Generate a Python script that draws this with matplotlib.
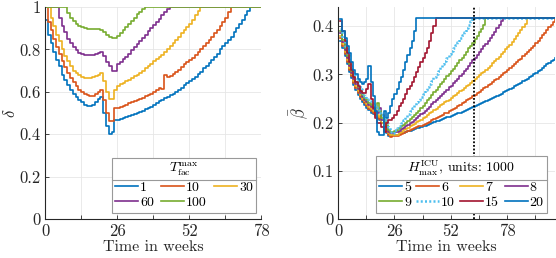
import numpy as np
import matplotlib
matplotlib.use("Agg")
import matplotlib.pyplot as plt
from matplotlib.lines import Line2D

plt.rcParams['font.family'] = ['cmr10', 'DejaVu Serif']
plt.rcParams['mathtext.fontset'] = 'cm'
plt.rcParams['axes.formatter.use_mathtext'] = True

# --- colours (MATLAB default order) ---
C_BLUE = (0.0, 0.447, 0.741)
C_ORANGE = (0.85, 0.325, 0.098)
C_YELLOW = (0.929, 0.694, 0.125)
C_PURPLE = (0.494, 0.184, 0.556)
C_GREEN = (0.466, 0.674, 0.188)
C_CYAN = (0.301, 0.745, 0.933)
C_RED = (0.635, 0.078, 0.184)
AX_COL = (0.15, 0.15, 0.15)

# --- left panel: delta over weeks (weekly stairs from week 0) ---
t_fac_labels = ['1', '10', '30', '60', '100']
delta_end_week = 78
delta_T1 = [0.94, 0.87, 0.83, 0.79, 0.75, 0.72, 0.68, 0.655, 0.63, 0.61,
            0.59, 0.575, 0.56, 0.55, 0.54, 0.535, 0.535, 0.54, 0.55, 0.565,
            0.575, 0.50, 0.44, 0.40, 0.41, 0.465, 0.465, 0.47, 0.475, 0.48,
            0.485, 0.49, 0.495, 0.50, 0.505, 0.51, 0.52, 0.525, 0.53, 0.54,
            0.545, 0.555, 0.56, 0.57, 0.575, 0.585, 0.59, 0.60, 0.61, 0.62,
            0.63, 0.64, 0.65, 0.66, 0.67, 0.685, 0.695, 0.71, 0.72, 0.735,
            0.75, 0.765, 0.78, 0.80, 0.815, 0.83, 0.845, 0.86, 0.88, 0.90,
            0.92, 0.94, 0.96, 0.98, 1.0]
delta_T10 = [1.0, 0.93, 0.89, 0.85, 0.81, 0.78, 0.745, 0.715, 0.69, 0.665,
             0.645, 0.625, 0.61, 0.60, 0.59, 0.585, 0.58, 0.58, 0.59, 0.60,
             0.61, 0.56, 0.50, 0.46, 0.46, 0.525, 0.525, 0.53, 0.535, 0.54,
             0.545, 0.55, 0.555, 0.56, 0.565, 0.57, 0.58, 0.585, 0.59, 0.60,
             0.61, 0.62, 0.615, 0.68, 0.67, 0.675, 0.685, 0.695, 0.705, 0.715,
             0.73, 0.74, 0.75, 0.76, 0.775, 0.79, 0.80, 0.815, 0.83, 0.845,
             0.86, 0.875, 0.89, 0.91, 0.93, 0.95, 0.975, 1.0]
delta_T30 = [1.0, 1.0, 0.95, 0.91, 0.87, 0.84, 0.80, 0.77, 0.745, 0.72,
             0.70, 0.69, 0.68, 0.67, 0.665, 0.665, 0.665, 0.67, 0.675, 0.68,
             0.69, 0.65, 0.60, 0.565, 0.565, 0.61, 0.625, 0.635, 0.64, 0.65,
             0.655, 0.665, 0.675, 0.68, 0.69, 0.70, 0.71, 0.72, 0.73, 0.745,
             0.755, 0.765, 0.775, 0.79, 0.80, 0.815, 0.83, 0.845, 0.86, 0.875,
             0.89, 0.905, 0.92, 0.94, 0.96, 0.98, 1.0]
delta_T60 = [1.0, 1.0, 1.0, 1.0, 1.0, 0.95, 0.91, 0.88, 0.85, 0.83,
             0.81, 0.795, 0.785, 0.78, 0.775, 0.775, 0.775, 0.775, 0.78, 0.785,
             0.79, 0.77, 0.74, 0.72, 0.70, 0.70, 0.73, 0.74, 0.755, 0.765,
             0.78, 0.795, 0.81, 0.825, 0.84, 0.855, 0.87, 0.885, 0.90, 0.915,
             0.93, 0.945, 0.96, 0.975, 0.99, 1.0]
delta_T100 = [1.0, 1.0, 1.0, 1.0, 1.0, 1.0, 1.0, 1.0, 0.97, 0.95,
              0.935, 0.92, 0.91, 0.905, 0.90, 0.895, 0.895, 0.895, 0.895, 0.895,
              0.89, 0.88, 0.87, 0.86, 0.855, 0.855, 0.865, 0.875, 0.89, 0.905,
              0.92, 0.935, 0.95, 0.965, 0.975, 0.99, 1.0]

# --- right panel: beta bar over weeks (weekly stairs from week 1) ---
h_icu_labels = ['5', '6', '7', '8', '9', '10', '15', '20']
beta_end_week = 100
beta_H5 = [0.370, 0.355, 0.338, 0.322, 0.306, 0.292, 0.279, 0.268, 0.258, 0.250,
           0.243, 0.237, 0.231, 0.226, 0.221, 0.217, 0.213, 0.209, 0.205, 0.200,
           0.185, 0.178, 0.172, 0.172, 0.175, 0.175,
           0.175, 0.176, 0.178, 0.179, 0.180, 0.182, 0.183, 0.185, 0.186, 0.188,
           0.189, 0.191, 0.193, 0.194, 0.196, 0.198, 0.199, 0.201, 0.203, 0.204,
           0.206, 0.208, 0.209, 0.211, 0.212, 0.214, 0.216, 0.217, 0.219, 0.221,
           0.223, 0.225, 0.226, 0.228, 0.230, 0.232, 0.234, 0.236, 0.238, 0.240,
           0.242, 0.245, 0.247, 0.249, 0.251, 0.254, 0.256, 0.258, 0.260, 0.263,
           0.265, 0.267, 0.270, 0.272, 0.275, 0.278, 0.280, 0.283, 0.286, 0.289,
           0.291, 0.294, 0.297, 0.300, 0.303, 0.307, 0.310, 0.314, 0.317, 0.321,
           0.324, 0.328, 0.331, 0.335]
beta_H6 = [0.375, 0.360, 0.342, 0.326, 0.310, 0.296, 0.283, 0.272, 0.262, 0.253,
           0.246, 0.240, 0.234, 0.229, 0.224, 0.220, 0.216, 0.212, 0.208, 0.215,
           0.190, 0.180, 0.175, 0.170, 0.172, 0.172,
           0.172, 0.174, 0.176, 0.178, 0.180, 0.182, 0.184, 0.186, 0.188, 0.190,
           0.192, 0.194, 0.196, 0.198, 0.200, 0.202, 0.205, 0.207, 0.209, 0.212,
           0.214, 0.216, 0.219, 0.221, 0.224, 0.226, 0.229, 0.231, 0.234, 0.237,
           0.240, 0.243, 0.246, 0.249, 0.252, 0.255, 0.258, 0.261, 0.264, 0.268,
           0.271, 0.274, 0.278, 0.281, 0.284, 0.288, 0.291, 0.295, 0.298, 0.302,
           0.306, 0.309, 0.313, 0.317, 0.321, 0.325, 0.329, 0.333, 0.338, 0.342,
           0.346, 0.351, 0.355, 0.360, 0.365, 0.370, 0.376, 0.381, 0.387, 0.392,
           0.398, 0.403, 0.409, 0.414]
beta_H7 = [0.380, 0.364, 0.346, 0.330, 0.314, 0.300, 0.287, 0.276, 0.266, 0.257,
           0.250, 0.244, 0.238, 0.233, 0.228, 0.224, 0.220, 0.216, 0.212, 0.200,
           0.195, 0.185, 0.178, 0.175, 0.175, 0.175,
           0.175, 0.178, 0.181, 0.184, 0.187, 0.189, 0.192, 0.195, 0.198, 0.201,
           0.203, 0.206, 0.209, 0.212, 0.215, 0.219, 0.222, 0.226, 0.229, 0.232,
           0.236, 0.239, 0.242, 0.245, 0.248, 0.252, 0.255, 0.258, 0.261, 0.265,
           0.268, 0.272, 0.275, 0.279, 0.282, 0.286, 0.290, 0.294, 0.298, 0.302,
           0.306, 0.310, 0.314, 0.318, 0.323, 0.328, 0.332, 0.337, 0.342, 0.347,
           0.352, 0.357, 0.362, 0.368, 0.374, 0.380, 0.386, 0.392, 0.398, 0.405,
           0.417]
beta_H8 = [0.385, 0.368, 0.350, 0.334, 0.318, 0.304, 0.291, 0.280, 0.270, 0.261,
           0.254, 0.248, 0.242, 0.237, 0.232, 0.228, 0.224, 0.220, 0.230, 0.205,
           0.200, 0.190, 0.180, 0.178, 0.178, 0.180,
           0.180, 0.183, 0.186, 0.189, 0.192, 0.195, 0.199, 0.202, 0.205, 0.209,
           0.213, 0.217, 0.221, 0.225, 0.229, 0.233, 0.238, 0.242, 0.246, 0.251,
           0.255, 0.259, 0.264, 0.268, 0.273, 0.277, 0.282, 0.286, 0.291, 0.296,
           0.301, 0.307, 0.312, 0.318, 0.323, 0.329, 0.335, 0.340, 0.346, 0.352,
           0.358, 0.364, 0.369, 0.375, 0.382, 0.389, 0.396, 0.403, 0.410, 0.417]
beta_H9 = [0.390, 0.372, 0.354, 0.338, 0.322, 0.308, 0.295, 0.284, 0.274, 0.265,
           0.258, 0.252, 0.246, 0.241, 0.236, 0.232, 0.228, 0.240, 0.225, 0.210,
           0.205, 0.195, 0.185, 0.180, 0.180, 0.183,
           0.185, 0.189, 0.192, 0.196, 0.200, 0.203, 0.207, 0.211, 0.215, 0.220,
           0.225, 0.230, 0.235, 0.240, 0.246, 0.251, 0.257, 0.263, 0.268, 0.274,
           0.280, 0.285, 0.291, 0.296, 0.301, 0.307, 0.312, 0.318, 0.323, 0.329,
           0.335, 0.341, 0.347, 0.354, 0.360, 0.366, 0.373, 0.380, 0.388, 0.395,
           0.403, 0.417]
beta_H10 = [0.395, 0.376, 0.358, 0.342, 0.326, 0.312, 0.299, 0.288, 0.278, 0.269,
            0.262, 0.256, 0.250, 0.245, 0.240, 0.236, 0.232, 0.228, 0.220, 0.215,
            0.210, 0.200, 0.190, 0.180, 0.178, 0.185,
            0.188, 0.194, 0.200, 0.206, 0.212, 0.218, 0.224, 0.230, 0.236, 0.242,
            0.248, 0.254, 0.260, 0.267, 0.273, 0.280, 0.287, 0.294, 0.301, 0.308,
            0.315, 0.321, 0.328, 0.335, 0.342, 0.348, 0.355, 0.362, 0.368, 0.375,
            0.382, 0.389, 0.396, 0.403, 0.410, 0.417]
beta_H15 = [0.41, 0.39, 0.37, 0.345, 0.325, 0.31, 0.295, 0.285, 0.275, 0.265,
            0.262, 0.262, 0.27, 0.28, 0.25, 0.23, 0.21, 0.20, 0.20, 0.19,
            0.18, 0.20, 0.205, 0.205, 0.21, 0.215, 0.225, 0.235, 0.24, 0.25,
            0.26, 0.27, 0.275, 0.285, 0.295, 0.305, 0.315, 0.325, 0.335, 0.345,
            0.355, 0.37, 0.385, 0.40, 0.417]
beta_H20 = [0.415, 0.39, 0.375, 0.36, 0.345, 0.325, 0.31, 0.30, 0.29, 0.285,
            0.28, 0.285, 0.29, 0.317, 0.285, 0.255, 0.225, 0.18, 0.175, 0.175,
            0.225, 0.21, 0.22, 0.235, 0.25, 0.26, 0.27, 0.285, 0.295, 0.31,
            0.325, 0.34, 0.355, 0.37, 0.39, 0.417]
marker_week = 62.5


def stairs(ax, start, vals, end, **kw):
    # weekly stairs, then hold the last value until the end of the axis
    x = list(np.arange(start, start + len(vals))) + [end]
    y = list(vals) + [vals[-1]]
    return ax.plot(x, y, drawstyle='steps-post', **kw)[0]


def style_axes(ax):
    for s in ['top', 'right']:
        ax.spines[s].set_visible(False)
    for s in ['left', 'bottom']:
        ax.spines[s].set_color(AX_COL)
        ax.spines[s].set_linewidth(0.8)
    ax.tick_params(direction='in', length=3, width=0.6, colors=AX_COL,
                   labelsize=12, pad=3)
    ax.grid(True, color=(0.9, 0.9, 0.9), linewidth=0.6)
    ax.set_axisbelow(True)
    ax.set_xlabel('Time in weeks', fontsize=11.5, color=AX_COL, labelpad=1)


def add_separator(fig, leg):
    # MATLAB style line under the legend title
    r = fig.canvas.get_renderer()
    fb = leg.legendPatch.get_window_extent(r)
    tb = leg.get_title().get_window_extent(r)
    y = tb.y0 - 1.5
    inv = fig.transFigure.inverted()
    (x0, yy), (x1, _) = inv.transform([(fb.x0, y), (fb.x1, y)])
    fig.add_artist(Line2D([x0, x1], [yy, yy], transform=fig.transFigure,
                          color=(0.6, 0.6, 0.6), lw=0.8, zorder=10))


fig = plt.figure(figsize=(5.56, 2.58), dpi=100)
ax1 = fig.add_axes([0.081, 0.151, 0.389, 0.822])
ax2 = fig.add_axes([0.608, 0.151, 0.390, 0.822])

lw = 1.2
delta_series = [delta_T1, delta_T10, delta_T30, delta_T60, delta_T100]
delta_colors = [C_BLUE, C_ORANGE, C_YELLOW, C_PURPLE, C_GREEN]
h1 = []
for vals, col, lab in zip(delta_series, delta_colors, t_fac_labels):
    h1.append(stairs(ax1, 0, vals, delta_end_week, color=col, lw=lw, label=lab))

style_axes(ax1)
ax1.set_xlim(0, 78)
ax1.set_ylim(0, 1)
ax1.set_xticks(np.arange(0, 79, 13))
ax1.set_xticklabels(['0', '', '26', '', '52', '', '78'])
ax1.set_yticks(np.arange(0, 1.01, 0.2))
ax1.set_yticklabels(['0', '0.2', '0.4', '0.6', '0.8', '1'])
ax1.set_ylabel(r'$\delta$', fontsize=12, color=AX_COL, labelpad=1)

order1 = [0, 3, 1, 4, 2]
leg1 = ax1.legend([h1[i] for i in order1], [t_fac_labels[i] for i in order1],
                  ncol=3, loc='lower right', bbox_to_anchor=(0.977, 0.03),
                  borderaxespad=0, fontsize=10, title=r'$T_{\mathrm{fac}}^{\max}$',
                  title_fontsize=10, fancybox=False, framealpha=1,
                  edgecolor=(0.6, 0.6, 0.6), handlelength=1.65, handletextpad=0.12,
                  columnspacing=0.55, labelspacing=0.2, borderpad=0.25)
leg1.get_frame().set_linewidth(0.8)

beta_series = [beta_H5, beta_H6, beta_H7, beta_H8, beta_H9, beta_H10, beta_H15, beta_H20]
beta_colors = [C_BLUE, C_ORANGE, C_YELLOW, C_PURPLE, C_GREEN, C_CYAN, C_RED, C_BLUE]
h2 = []
for vals, col, lab in zip(beta_series, beta_colors, h_icu_labels):
    if lab == '10':
        h2.append(stairs(ax2, 1, vals, beta_end_week, color=col, lw=1.8,
                         linestyle=(0, (0.8, 0.9)), label=lab))
    else:
        h2.append(stairs(ax2, 1, vals, beta_end_week, color=col, lw=lw, label=lab))

ax2.axvline(marker_week, color='black', lw=1.3, linestyle=(0, (1, 1)), zorder=3)

style_axes(ax2)
ax2.set_xlim(0, 100)
ax2.set_ylim(0, 0.44)
ax2.set_xticks(np.arange(0, 100, 13))
ax2.set_xticklabels(['0', '', '26', '', '52', '', '78', ''])
ax2.set_yticks(np.arange(0, 0.41, 0.1))
ax2.set_yticklabels(['0', '0.1', '0.2', '0.3', '0.4'])
ax2.set_ylabel(r'$\bar{\beta}$', fontsize=12, color=AX_COL, labelpad=1)

order2 = [0, 4, 1, 5, 2, 6, 3, 7]
leg2 = ax2.legend([h2[i] for i in order2], [h_icu_labels[i] for i in order2],
                  ncol=4, loc='lower right', bbox_to_anchor=(0.962, 0.03),
                  borderaxespad=0, fontsize=10,
                  title=r'$H_{\max}^{\mathrm{ICU}}$, units: 1000',
                  title_fontsize=10, fancybox=False, framealpha=1,
                  edgecolor=(0.6, 0.6, 0.6), handlelength=1.65, handletextpad=0.12,
                  columnspacing=0.4, labelspacing=0.2, borderpad=0.25)
leg2.get_frame().set_linewidth(0.8)
leg2.set_zorder(6)

fig.canvas.draw()
add_separator(fig, leg1)
add_separator(fig, leg2)

fig.savefig('out.png', dpi=100)
